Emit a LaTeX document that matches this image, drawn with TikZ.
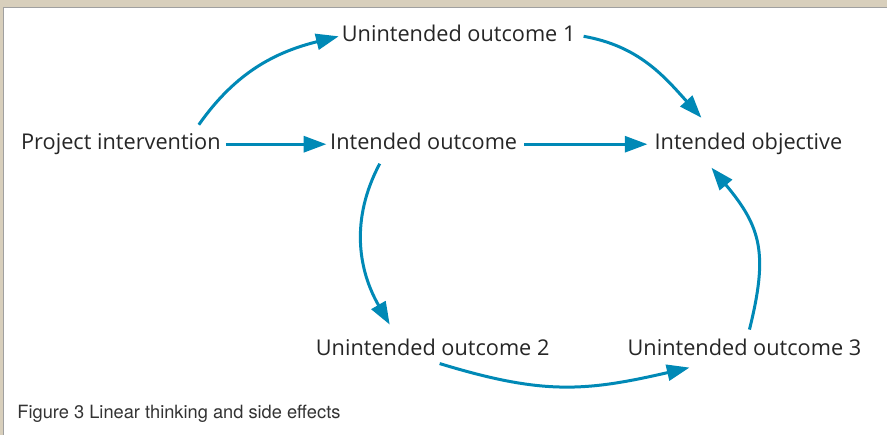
\documentclass[tikz,border=0pt]{standalone}
\usepackage{fontspec}
\setmainfont{Open Sans}
\newfontfamily\capfont{TeX Gyre Heros}
\usetikzlibrary{arrows.meta}

\definecolor{flowblue}{RGB}{0,137,182}
\definecolor{paneltan}{RGB}{216,207,188}
\definecolor{panelgrey}{RGB}{160,160,160}

\tikzset{
	label text/.style={anchor=base, inner sep=2pt, text height=12pt, text depth=3.5pt,
		font=\fontsize{16.3}{19}\selectfont, text=black!85},
	flow/.style={draw=flowblue, line width=2.25pt,
		-{Triangle[length=17pt,width=12pt]}}}
\tikzset{every picture/.style={line width=0.75pt}}

\begin{document}
\begin{tikzpicture}[x=0.75pt,y=0.75pt,yscale=-1,xscale=1]
	%panel behind the figure
	\fill[paneltan] (0,0) rectangle (888,435);
	\fill[white] (3,8) rectangle (888,435);
	\draw[panelgrey, line width=1pt] (3.5,435) -- (3.5,7.5) -- (888,7.5);

	% Text Node
	\node[label text] (pi) at (121,150) {Project intervention};
	% Text Node
	\node[label text] (io) at (424,150) {Intended outcome};
	% Text Node
	\node[label text] (obj) at (749,150) {Intended objective};
	% Text Node
	\node[label text] (uo1) at (459,42) {Unintended outcome 1};
	% Text Node
	\node[label text] (uo2) at (433,356) {Unintended outcome 2};
	% Text Node
	\node[label text] (uo3) at (745,356) {Unintended outcome 3};
	% Caption
	\node[anchor=base west, inner sep=0pt, font=\capfont\fontsize{13.7}{16}\selectfont, text=black!80]
		(cap) at (17,419) {Figure 3 Linear thinking and side effects};

	%straight arrows
	\draw[flow] ([xshift=1.5pt]pi.east) -- ([xshift=-0.5pt]io.west);
	\draw[flow] ([xshift=3pt]io.east) -- ([xshift=-3pt]obj.west);
	%curved arrows (angles negated because of yscale=-1)
	\draw[flow] ([shift={(-25,-6)}]pi.north east) to[out=-55,in=166] (uo1.west);
	\draw[flow] ([shift={(5,0)}]uo1.east) to[out=10,in=-132] ([shift={(50,-13)}]obj.north west);
	\draw[flow] ([shift={(-44,6)}]io.south) to[out=118,in=-120] ([shift={(-43,-12)}]uo2.north);
	\draw[flow] ([shift={(7,0)}]uo2.south) to[out=17,in=-193,looseness=1.1] ([shift={(-55,4)}]uo3.south);
	\draw[flow] ([shift={(5,-7)}]uo3.north) to[out=-76,in=50,looseness=1.2] ([shift={(-37,10)}]obj.south);
\end{tikzpicture}
\end{document}
